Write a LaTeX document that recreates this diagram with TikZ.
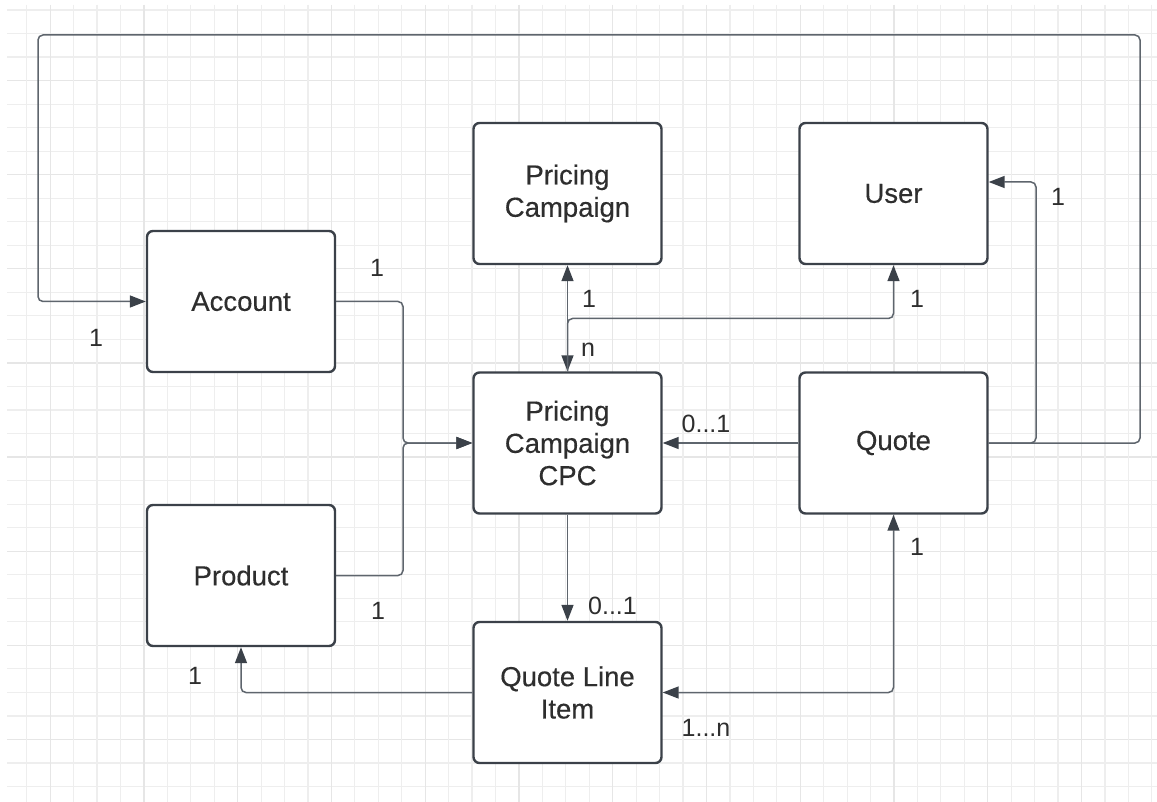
\documentclass[tikz,border=0pt]{standalone}
\usepackage{fontspec}
\setmainfont{Liberation Sans}
\newfontface\entfont{Liberation Sans}[FakeBold=0.35]
\usetikzlibrary{arrows.meta}
\definecolor{boxc}{HTML}{3B4149}
\definecolor{linec}{HTML}{5E656D}
\definecolor{tipc}{HTML}{3B4149}
\definecolor{txt}{HTML}{2E2E2E}
\definecolor{gridc}{HTML}{EEEEEE}
\definecolor{gridm}{HTML}{E6E6E6}
\tikzset{
  entity/.style={draw=boxc, line width=2.4pt, rounded corners=6pt, fill=white,
    minimum width=188pt, minimum height=141pt, align=center, inner sep=2pt,
    text=txt, font=\entfont\fontsize{27.5}{32.3}\selectfont},
  conn/.style={draw=linec, line width=1.5pt, rounded corners=5pt},
  tip/.style={-{Triangle[length=16pt,width=12pt,fill=tipc,color=tipc]}},
  dtip/.style={{Triangle[length=16pt,width=12pt,fill=tipc,color=tipc]}-{Triangle[length=16pt,width=12pt,fill=tipc,color=tipc]}},
  lbl/.style={inner sep=0pt, text=txt, font=\fontsize{25}{30}\selectfont}
}
\begin{document}
\begin{tikzpicture}[x=1pt,y=-1pt]
\useasboundingbox (0,0) rectangle (1157,802);
\fill[white] (0,0) rectangle (1157,802);
% grid
\foreach \i in {0,...,33} {
  \pgfmathtruncatemacro{\m}{mod(\i,4)}
  \ifnum\m=3
    \draw[gridm, line width=1.2pt] (7,{10+23.53*\i}) -- (1157,{10+23.53*\i});
  \else
    \draw[gridc, line width=1.2pt] (7,{10+23.53*\i}) -- (1157,{10+23.53*\i});
  \fi
}
\foreach \i in {0,...,48} {
  \pgfmathtruncatemacro{\m}{mod(\i,4)}
  \ifnum\m=1
    \draw[gridm, line width=1.2pt] ({26.7+23.44*\i},5) -- ({26.7+23.44*\i},802);
  \else
    \draw[gridc, line width=1.2pt] ({26.7+23.44*\i},5) -- ({26.7+23.44*\i},802);
  \fi
}
% entities
\node[entity] (acc) at (241,301.5) {Account};
\node[entity] (prod) at (241,575.5) {Product};
\node[entity] (pc) at (567.5,193.5) {Pricing\\Campaign};
\node[entity] (user) at (893.5,193.5) {User};
\node[entity] (cpc) at (567.5,443) {Pricing\\Campaign\\CPC};
\node[entity] (quote) at (893.5,443) {Quote};
\node[entity] (qli) at (567.5,692.5) {Quote Line\\Item};
% connectors
\draw[conn,tip] (acc.east) -- (403,301.5) -- (403,443) -- (cpc.west);
\draw[conn,tip] (prod.east) -- (403,575.5) -- (403,443) -- (cpc.west);
\draw[conn,dtip] (pc.south) -- (cpc.north);
\draw[conn,tip] (cpc.north) -- (567.5,318.5) -- (893.5,318.5) -- (user.south);
\draw[conn,tip] (quote.west) -- (cpc.east);
\draw[conn,tip] (quote.east) -- (1036,443) -- (1036,182) -- ([yshift=11.5pt]user.east);
\draw[conn,tip] (quote.east) -- (1140,443) -- (1140,35) -- (38,35) -- (38,301.5) -- (acc.west);
\draw[conn,tip] (cpc.south) -- (qli.north);
\draw[conn,tip] (qli.west) -- (241,692.5) -- (prod.south);
\draw[conn,dtip] (qli.east) -- (893.5,692.5) -- (quote.south);
% labels
\node[lbl] (l1) at (377,268) {1};
\node[lbl] (l2) at (96,338) {1};
\node[lbl] (l3) at (589,299) {1};
\node[lbl] (l4) at (588,350) {n};
\node[lbl] (l5) at (917,299) {1};
\node[lbl] (l6) at (1058,197) {1};
\node[lbl] (l7) at (706,424) {0...1};
\node[lbl] (l8) at (612.5,606) {0...1};
\node[lbl] (l9) at (917,547) {1};
\node[lbl] (l10) at (706,728) {1...n};
\node[lbl] (l11) at (195,676) {1};
\node[lbl] (l12) at (378,611) {1};
\end{tikzpicture}
\end{document}
